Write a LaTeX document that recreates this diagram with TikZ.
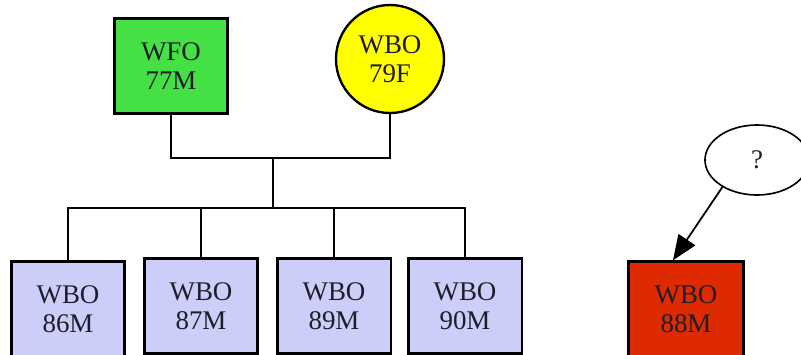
\documentclass[tikz,border=0pt]{standalone}
\usepackage{fontspec}
\setmainfont{Liberation Serif}
\usetikzlibrary{arrows.meta,shapes.geometric}
\definecolor{pdink}{HTML}{1E1E2A}
\definecolor{pdgreen}{HTML}{44E044}
\definecolor{pdyellow}{HTML}{FFFF00}
\definecolor{pdlav}{HTML}{CDCDFA}
\definecolor{pdred}{HTML}{DD2A00}

\begin{document}
\begin{tikzpicture}[x=0.03cm, y=-0.03cm, text=pdink,
    font=\fontsize{23}{25}\selectfont,
    person/.style={draw=black, line width=2pt, align=center, inner sep=0pt},
    male/.style={person, rectangle, minimum width=3.4cm, minimum height=2.85cm},
    female/.style={person, circle, minimum size=3.24cm},
    unknown/.style={person, ellipse, line width=1.4pt, minimum width=3.12cm, minimum height=2.1cm},
    link/.style={draw=black, line width=1.7pt},
    edge/.style={draw=black, line width=1.5pt, -{Triangle[length=7.5mm, width=6mm]}},
  ]
  \useasboundingbox (0,0) rectangle (801,354);
  \clip (0,0) rectangle (801,354);

  % parents
  \node[male, fill=pdgreen] (wfo77) at (171,66) {WFO\\77M};
  \node[female, fill=pdyellow] (wbo79) at (390,59) {WBO\\79F};

  % children
  \node[male, fill=pdlav] (wbo86) at (68,309) {WBO\\86M};
  \node[male, fill=pdlav] (wbo87) at (201,306) {WBO\\87M};
  \node[male, fill=pdlav] (wbo89) at (334,306) {WBO\\89M};
  \node[male, fill=pdlav] (wbo90) at (465,306) {WBO\\90M};

  % unknown parent and the odd one out
  \node[male, fill=pdred, minimum width=3.45cm] (wbo88) at (686,309) {WBO\\88M};
  \node[unknown, fill=white] (q) at (757,160) {?};

  % marriage and sibling bars
  \coordinate (couple) at (273,158);
  \coordinate (sibs) at (273,208);
  \draw[link] (wfo77.south) |- (couple) -| (wbo79.south);
  \draw[link] (couple) -- (sibs);
  \foreach \kid in {wbo86, wbo87, wbo89, wbo90}
    \draw[link] (sibs) -| (\kid.north);

  \draw[edge] (q.218) -- (wbo88.105);
\end{tikzpicture}
\end{document}
